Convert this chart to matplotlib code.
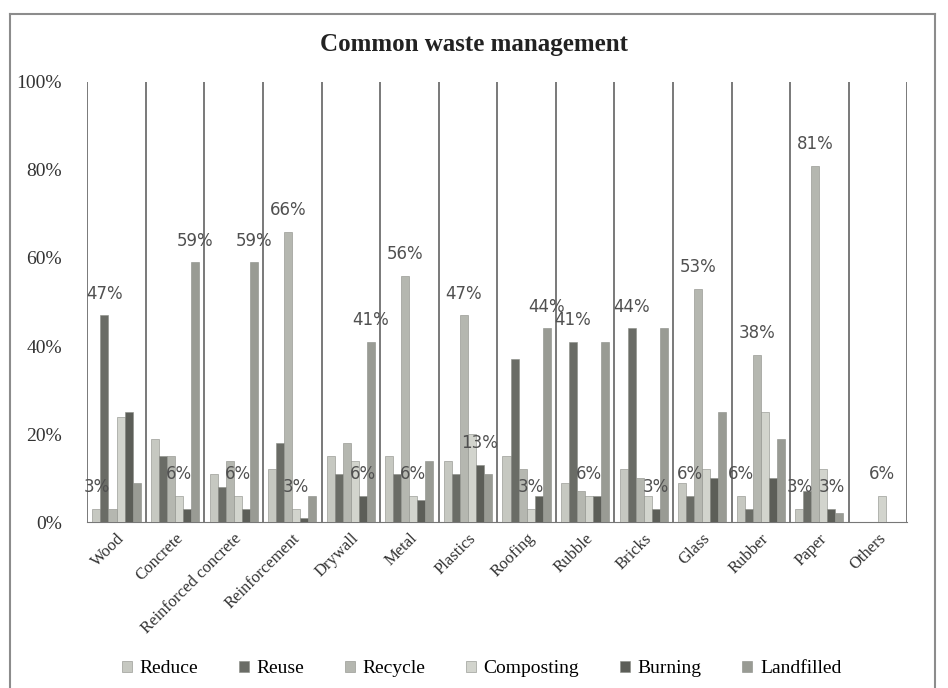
import matplotlib
matplotlib.use("Agg")
import matplotlib.pyplot as plt
from matplotlib.lines import Line2D
import numpy as np

# categories and series (values in %)
materials = ["Wood", "Concrete", "Reinforced concrete", "Reinforcement", "Drywall",
             "Metal", "Plastics", "Roofing", "Rubble", "Bricks", "Glass", "Rubber",
             "Paper", "Others"]
series = ["Reduce", "Reuse", "Recycle", "Composting", "Burning", "Landfilled"]

reduce_vals     = [3, 19, 11, 12, 15, 15, 14, 15, 9, 12, 9, 6, 3, 0]
reuse_vals      = [47, 15, 8, 18, 11, 11, 11, 37, 41, 44, 6, 3, 7, 0]
recycle_vals    = [3, 15, 14, 66, 18, 56, 47, 12, 7, 10, 53, 38, 81, 0]
composting_vals = [24, 6, 6, 3, 14, 6, 20, 3, 6, 6, 12, 25, 12, 6]
burning_vals    = [25, 3, 3, 1, 6, 5, 13, 6, 6, 3, 10, 10, 3, 0]
landfilled_vals = [9, 59, 59, 6, 41, 14, 11, 44, 41, 44, 25, 19, 2, 0]

# which bars carry a data label: (material index, series index)
labelled = [(0, 0), (0, 1), (1, 3), (1, 5), (2, 3), (2, 5), (3, 2), (3, 3),
            (4, 4), (4, 5), (5, 2), (5, 3), (6, 2), (6, 4), (7, 3), (7, 5),
            (8, 1), (8, 3), (9, 1), (9, 4), (10, 1), (10, 2), (11, 0), (11, 2),
            (12, 0), (12, 2), (12, 4), (13, 3)]

data = [reduce_vals, reuse_vals, recycle_vals, composting_vals, burning_vals, landfilled_vals]
colors = ["#c6c8c1", "#6a6c66", "#b5b7b0", "#d2d4cd", "#5c5e58", "#999b94"]

fig = plt.figure(figsize=(9.48, 6.88), dpi=100)
ax = fig.add_axes([0.092, 0.241, 0.865, 0.64])

x = np.arange(len(materials))
w = 0.82 / len(series)
for i, (name, vals) in enumerate(zip(series, data)):
    pos = x - 0.41 + w * (i + 0.5)
    ax.bar(pos, np.array(vals) / 100, width=w, color=colors[i],
           edgecolor="#8a8c86", linewidth=0.4, label=name, zorder=3)

for m, s in labelled:
    v = data[s][m]
    ax.annotate(f"{v}%", (x[m] - 0.41 + w * (s + 0.5), v / 100),
                xytext=(0, 9), textcoords="offset points", ha="center", va="bottom",
                fontsize=12, color="#505050", family="DejaVu Sans", zorder=4)

ax.set_xlim(-0.5, len(materials) - 0.5)
ax.set_ylim(0, 1)
ax.set_yticks(np.arange(0, 1.01, 0.2))
ax.set_yticklabels([f"{int(round(t * 100))}%" for t in np.arange(0, 1.01, 0.2)],
                   family="Liberation Serif", fontsize=14, color="#333333")
ax.set_xticks(x)
ax.set_xticklabels(materials, rotation=45, ha="right", rotation_mode="anchor",
                   family="Liberation Serif", fontsize=12, color="#333333")
ax.tick_params(axis="both", length=0)
ax.tick_params(axis="y", pad=18)
ax.tick_params(axis="x", pad=6)

# vertical lines at category boundaries
for b in np.arange(-0.5, len(materials), 1.0):
    ax.axvline(b, color="#555555", linewidth=1.1, zorder=2)

for sp in ["left", "right", "top"]:
    ax.spines[sp].set_visible(False)
ax.spines["bottom"].set_color("#777777")

fig.text(0.5, 0.935, "Common waste management", ha="center", va="center",
         family="Liberation Serif", fontweight="bold", fontsize=18, color="#222222")

# outer frame of the scanned chart
frame_col = "#8c8c8c"
fig.add_artist(Line2D([0.011, 0.011], [0.0, 0.98], transform=fig.transFigure, color=frame_col, lw=1.5))
fig.add_artist(Line2D([0.011, 0.986], [0.98, 0.98], transform=fig.transFigure, color=frame_col, lw=1.5))
fig.add_artist(Line2D([0.986, 0.986], [0.0, 0.98], transform=fig.transFigure, color=frame_col, lw=1.5))

handles, labels = ax.get_legend_handles_labels()
fig.legend(handles, labels, loc="center", bbox_to_anchor=(0.508, 0.028), ncol=6,
           frameon=False, handlelength=0.5, handleheight=0.5, handletextpad=0.4,
           columnspacing=2.1, prop={"family": "Liberation Serif", "size": 14})

fig.savefig("out.png", dpi=100)
